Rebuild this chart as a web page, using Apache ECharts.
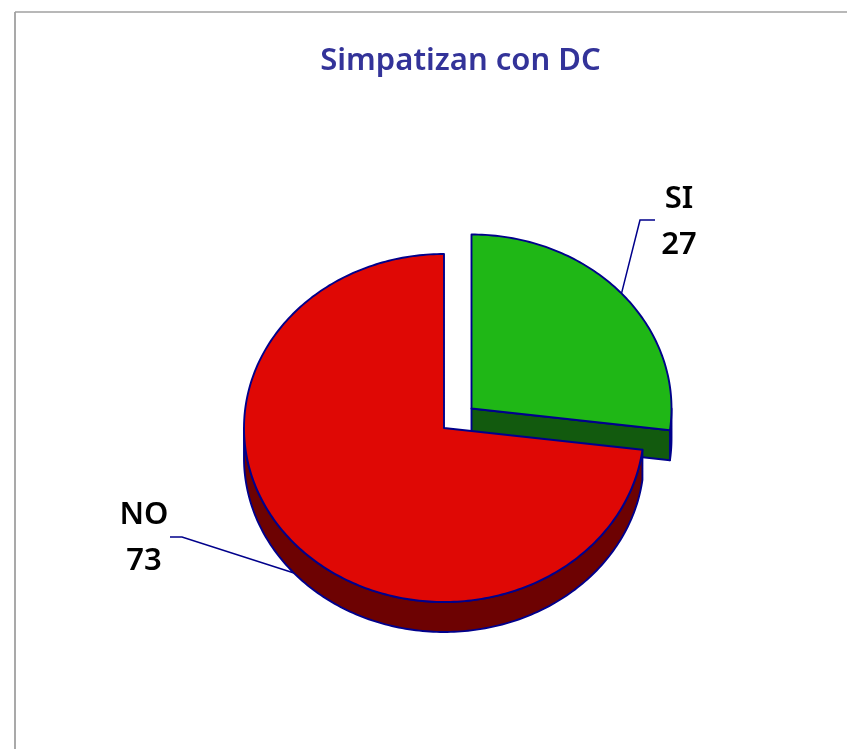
<!DOCTYPE html>
<html>
<head>
<meta charset="utf-8">
<style>html,body{margin:0;padding:0;background:#fff}#c{width:847px;height:749px}</style>
<script src="https://cdn.jsdelivr.net/npm/echarts@6/dist/echarts.min.js"></script>
</head>
<body>
<div id="c"></div>
<script>
var categories = ['SI', 'NO'];
var values = [27, 73];
var titleText = 'Simpatizan con DC';

var topColors = ['#1fb716', '#df0805'];
var sideColors = ['#125a0e', '#6d0202'];
var edgeColor = '#00008b';
var RX = 200, RY = 174, DEPTH = 30;
var sliceLayout = [
  { cx: 471.5, cy: 408.5, elbow: [640, 220], end: [655, 220], text: [679, 222], useDepth: false },
  { cx: 444, cy: 428, elbow: [182, 537], end: [170, 537], text: [144, 538], useDepth: true }
];

var total = values.reduce(function (a, b) { return a + b; }, 0);

function rim(L, deg, dy) {
  var a = deg * Math.PI / 180;
  return [L.cx + RX * Math.sin(a), L.cy - RY * Math.cos(a) + (dy || 0)];
}
function arc(L, from, to, dy) {
  var pts = [], n = Math.max(2, Math.ceil(Math.abs(to - from)));
  for (var i = 0; i <= n; i++) pts.push(rim(L, from + (to - from) * i / n, dy));
  return pts;
}
function poly(points, fill) {
  return {
    type: 'polygon',
    shape: { points: points },
    style: { fill: fill, stroke: edgeColor, lineWidth: 1.9, lineJoin: 'round' }
  };
}

function renderSlice(params, api) {
  var i = params.dataIndex;
  var L = sliceLayout[i];
  var before = 0;
  for (var k = 0; k < i; k++) before += values[k];
  var start = before / total * 360;
  var end = (before + api.value(1)) / total * 360;
  var mid = (start + end) / 2;
  var children = [];

  // outer wall: the part of the rim facing the viewer
  var wallFrom = Math.max(start, 90), wallTo = Math.min(end, 270);
  if (wallTo > wallFrom) {
    children.push(poly(arc(L, wallFrom, wallTo, 0).concat(arc(L, wallTo, wallFrom, DEPTH)), sideColors[i]));
  }
  // cut face at the end of the first slice
  if (end < 180) {
    var c = [L.cx, L.cy], r = rim(L, end, 0);
    children.push(poly([c, r, [r[0], r[1] + DEPTH], [c[0], c[1] + DEPTH]], sideColors[i]));
  }
  // top face
  children.push(poly([[L.cx, L.cy]].concat(arc(L, start, end, 0)), topColors[i]));

  // leader line and label
  var anchor = rim(L, mid, L.useDepth ? DEPTH : 0);
  children.push({
    type: 'polyline',
    shape: { points: [anchor, L.elbow, L.end] },
    style: { fill: null, stroke: edgeColor, lineWidth: 1.5 }
  });
  children.push({
    type: 'text',
    style: {
      x: L.text[0], y: L.text[1],
      text: api.value(0) === i ? categories[i] + '\n' + api.value(1) : '',
      fill: '#000',
      font: '600 31px "Noto Sans", Tahoma, sans-serif',
      lineHeight: 46,
      align: 'center',
      verticalAlign: 'middle'
    }
  });
  return { type: 'group', children: children };
}

var chart = echarts.init(document.getElementById('c'), null, { renderer: 'canvas' });
chart.setOption({
  animation: false,
  backgroundColor: '#ffffff',
  title: {
    text: titleText,
    left: 455.5, top: 41,
    textAlign: 'center',
    textStyle: { color: '#333399', fontSize: 31, fontWeight: 600, fontFamily: '"Noto Sans", Tahoma, sans-serif' }
  },
  graphic: [
    { type: 'line', shape: { x1: 15, y1: 12, x2: 847, y2: 12 }, style: { stroke: '#a0a0a0', lineWidth: 1.5 } },
    { type: 'line', shape: { x1: 15, y1: 12, x2: 15, y2: 749 }, style: { stroke: '#a0a0a0', lineWidth: 1.8 } }
  ],
  series: [{
    type: 'custom',
    coordinateSystem: 'none',
    renderItem: renderSlice,
    data: values.map(function (v, i) { return [i, v]; })
  }]
});
</script>
</body>
</html>
